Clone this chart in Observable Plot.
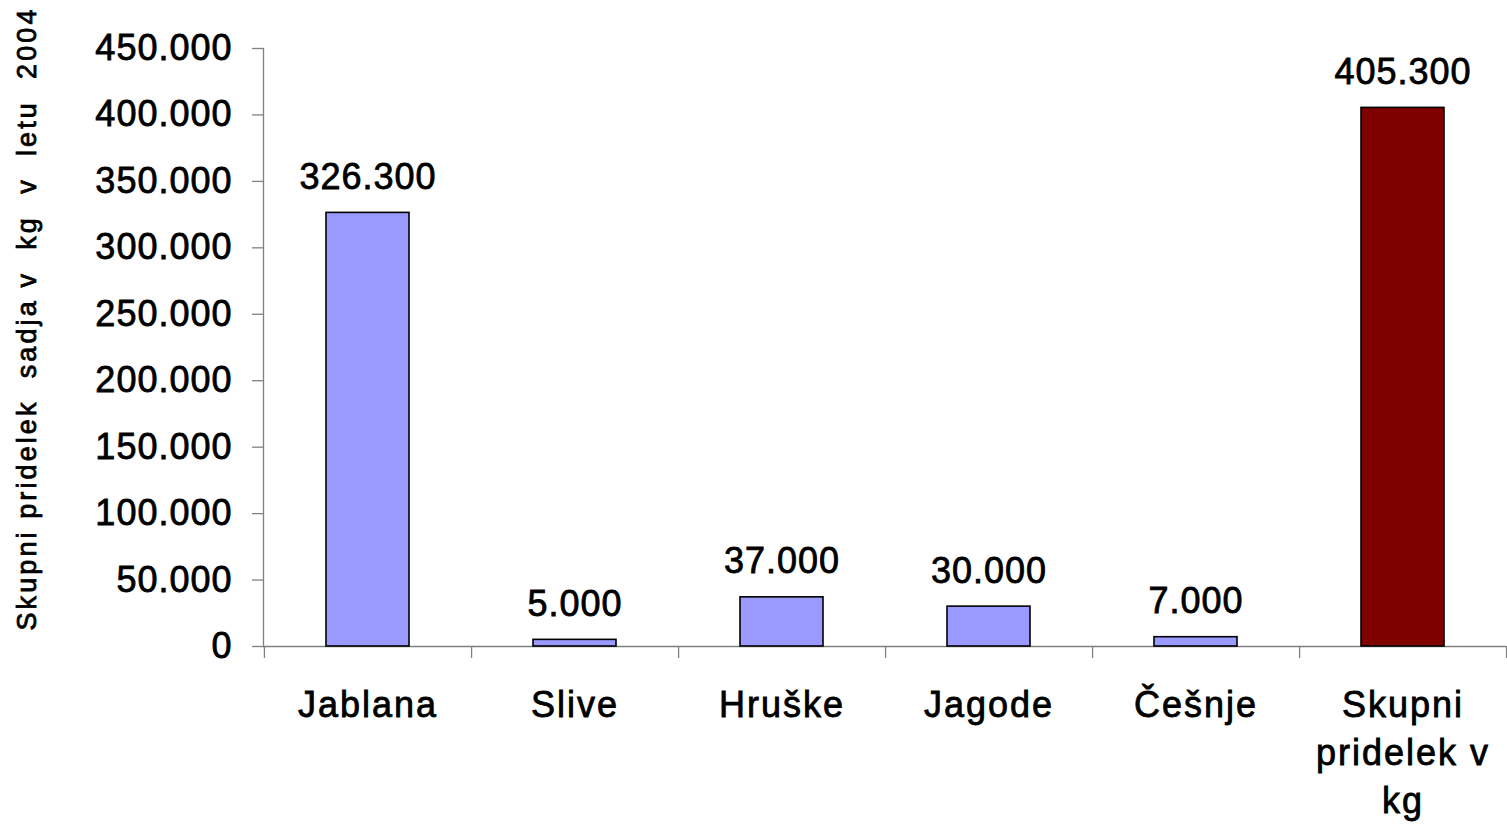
<!DOCTYPE html>
<html>
<head>
<meta charset="utf-8">
<script src="https://cdn.jsdelivr.net/npm/d3@7"></script>
<script src="https://cdn.jsdelivr.net/npm/@observablehq/plot@0.6"></script>
<style>
  html, body { margin: 0; padding: 0; background: #ffffff; }
  #chart svg { display: block; }
</style>
</head>
<body>
<div id="chart"></div>
<script>
const categories = ["Jablana", "Slive", "Hruške", "Jagode", "Češnje", "Skupni\npridelek v\nkg"];
const values = [326300, 5000, 37000, 30000, 7000, 405300];
const barColors = ["#9999FF", "#9999FF", "#9999FF", "#9999FF", "#9999FF", "#800000"];
const yTicks = [0, 50000, 100000, 150000, 200000, 250000, 300000, 350000, 400000, 450000];
const yTitle = "Skupni pridelek  sadja v  kg  v  letu  2004";

const fmt = d3.formatLocale({decimal: ",", thousands: ".", grouping: [3], currency: ["", ""]}).format(",");

const W = 1507, H = 824;
const mL = 263, mR = 1, mT = 48, mB = 178;
const step = (W - mL - mR) / categories.length;
const axisGrey = "#808080";
const font = "'Liberation Sans', Arial, sans-serif";

const rows = values.map((v, i) => ({cat: categories[i], value: v, color: barColors[i]}));

const chart = Plot.plot({
  width: W,
  height: H,
  marginLeft: mL,
  marginRight: mR,
  marginTop: mT,
  marginBottom: mB,
  style: {fontFamily: font, fontSize: "36px", color: "#000", background: "#fff", overflow: "visible"},
  x: {domain: categories, paddingInner: 0.6, paddingOuter: 0.3, axis: null},
  y: {domain: [0, 450000], axis: null},
  color: {type: "identity"},
  marks: [
    Plot.frame({anchor: "left", stroke: axisGrey, strokeWidth: 1.3}),
    Plot.ruleY([0], {stroke: axisGrey, strokeWidth: 1.3}),
    Plot.axisY({ticks: yTicks, tickFormat: fmt, tickSize: 11, tickPadding: 20, stroke: axisGrey, fill: "#000", strokeWidth: 1.3, fontSize: 36, label: null}),
    Plot.axisX({ticks: categories, tickSize: 12, tickFormat: () => "", dx: step / 2, stroke: axisGrey, strokeWidth: 1.3, label: null}),
    Plot.axisX({ticks: [categories[0]], tickSize: 12, tickFormat: () => "", dx: -step / 2, stroke: axisGrey, strokeWidth: 1.3, label: null}),
    Plot.axisX({ticks: categories, tickSize: 0, tickPadding: 37, fill: "#000", fontSize: 36, lineHeight: 1.33, label: null}),
    Plot.barY(rows, {x: "cat", y: "value", fill: "color", stroke: "#000", strokeWidth: 1.6}),
    Plot.text(rows, {x: "cat", y: "value", text: d => fmt(d.value), dy: -24, lineAnchor: "bottom", fontSize: 36, fill: "#000"}),
    Plot.text([yTitle], {frameAnchor: "left", textAnchor: "middle", rotate: -90, dx: -247, dy: -29, lineAnchor: "top", fontSize: 27, fill: "#000"})
  ]
});

document.getElementById("chart").appendChild(chart);
const svg = d3.select(chart);
svg.selectAll('g[aria-label="x-axis tick label"] text').style("letter-spacing", "2px");
svg.selectAll('g[aria-label="y-axis tick label"] text').style("letter-spacing", "1px");
svg.selectAll('g[aria-label="text"] text').style("letter-spacing", "1px");
svg.selectAll('g[aria-label="text"]').filter((d, i, n) => d3.select(n[i]).selectAll("text").size() === 1)
  .selectAll("text").style("letter-spacing", "3.1px");
svg.selectAll("text").style("stroke", "#000").style("stroke-width", "0.8px").style("paint-order", "stroke");
</script>
</body>
</html>
